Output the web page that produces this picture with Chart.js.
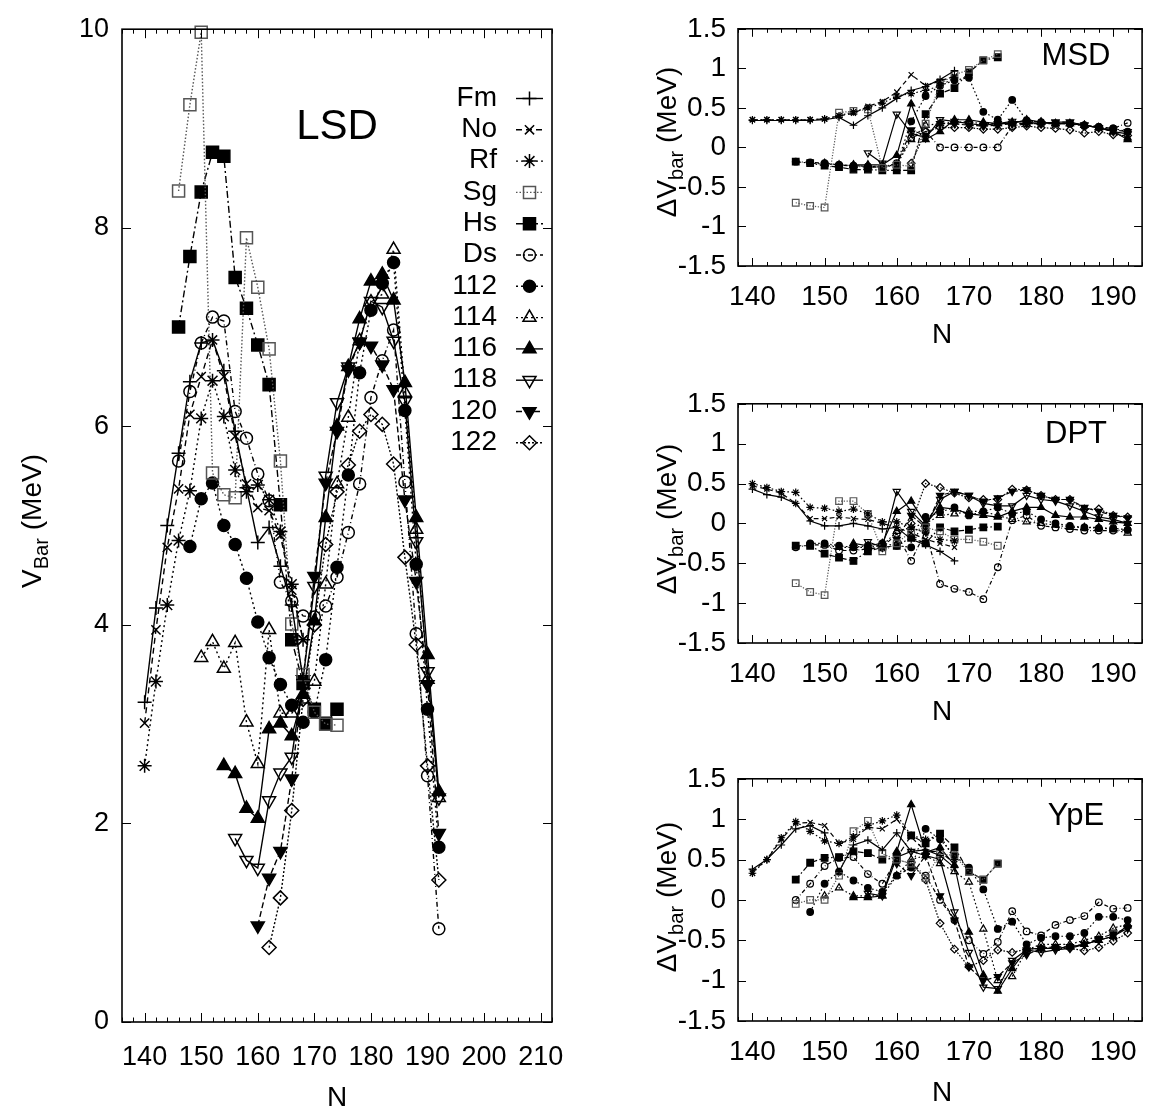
<!DOCTYPE html>
<html><head><meta charset="utf-8">
<script src="https://cdn.jsdelivr.net/npm/chart.js@4/dist/chart.umd.min.js"></script>
<style>
html,body{margin:0;padding:0;background:#fff;overflow:hidden;width:1151px;height:1114px;}
canvas{position:absolute;}
</style></head><body>
<canvas id="lsd" width="600" height="1114" style="left:0;top:0"></canvas>
<canvas id="msd" width="551" height="375" style="left:600px;top:0"></canvas>
<canvas id="dpt" width="551" height="375" style="left:600px;top:375px"></canvas>
<canvas id="ype" width="551" height="364" style="left:600px;top:750px"></canvas>
<script>
// ---------------- DATA ----------------
const N_VALUES = [140,142,144,146,148,150,152,154,156,158,160,162,164,166,168,170,172,174,176,178,180,182,184,186,188,190,192];
const ELEMENTS = ['Fm','No','Rf','Sg','Hs','Ds','112','114','116','118','120','122'];
const FIRST_N  = [140,140,140,146,146,146,148,150,154,156,160,162];

// LSD barrier heights V_Bar (MeV)
const LSD_Fm  = [3.22,4.17,5.0,5.73,6.45,6.84,6.87,6.56,5.95,5.38,4.83,4.98,4.59,4.2,3.45];
const LSD_No  = [3.01,3.95,4.78,5.37,6.12,6.5,6.87,6.5,5.9,5.42,5.18,5.15,4.9,4.35,3.85];
const LSD_Rf  = [2.58,3.43,4.2,4.85,5.35,6.08,6.46,6.1,5.56,5.34,5.41,5.26,4.94,4.41,3.85];
const LSD_Sg  = [8.37,9.24,9.97,5.53,5.31,5.28,7.9,7.4,6.78,5.65,4.01,3.5,3.12,3.0,2.99];
const LSD_Hs  = [7.0,7.71,8.36,8.76,8.72,7.5,7.19,6.82,6.42,5.21,3.85,3.41,3.15,3.01,3.15];
const LSD_Ds  = [5.65,6.35,6.84,7.1,7.06,6.15,5.88,5.52,5.25,4.43,4.24,4.09,4.08,4.19,4.48,4.93,5.42,6.29,6.66,6.97,5.44,3.91,2.48,0.94];
const LSD_112 = [4.79,5.27,5.43,5.0,4.81,4.47,4.03,3.67,3.4,3.19,3.02,3.12,3.65,4.58,5.51,6.54,7.17,7.44,7.65,6.16,4.61,3.15,1.76];
const LSD_114 = [3.67,3.83,3.56,3.82,3.02,2.6,3.95,3.11,3.11,3.25,3.43,4.41,5.42,6.09,6.86,7.25,7.33,7.78,6.34,4.96,3.45,2.26];
const LSD_116 = [2.58,2.5,2.15,2.05,2.95,3.01,2.88,3.3,4.04,5.08,6.0,6.6,7.08,7.46,7.53,7.27,6.44,5.08,3.7,2.32];
const LSD_118 = [1.85,1.63,1.55,2.23,2.51,2.67,3.45,4.39,5.5,6.24,6.6,6.85,7.26,7.2,6.86,6.25,4.84,3.53,2.26];
const LSD_120 = [0.97,1.45,1.72,2.45,3.45,4.49,5.43,5.95,6.57,6.85,6.81,6.62,6.37,5.26,4.44,3.4,1.9];
const LSD_122 = [0.75,1.25,2.13,3.25,4.0,4.81,5.34,5.61,5.95,6.12,6.02,5.62,4.68,3.8,2.58,1.43];

// MSD differences (MeV)
const MSD_Fm  = [0.34,0.34,0.34,0.34,0.34,0.35,0.38,0.28,0.4,0.5,0.62,0.72,0.77,0.86,0.97];
const MSD_No  = [0.35,0.35,0.35,0.35,0.35,0.36,0.4,0.43,0.52,0.58,0.7,0.92,0.78,0.84,0.9];
const MSD_Rf  = [0.35,0.35,0.35,0.35,0.35,0.36,0.4,0.45,0.5,0.56,0.65,0.68,0.72,0.78,0.88];
const MSD_Sg  = [-0.7,-0.74,-0.76,0.44,0.46,0.48,-0.26,-0.22,-0.24,0.3,0.8,0.92,0.98,1.1,1.18];
const MSD_Hs  = [-0.18,-0.2,-0.23,-0.25,-0.28,-0.28,-0.29,-0.29,-0.29,0.42,0.68,0.75,0.95,1.1,1.14];
const MSD_Ds  = [-0.18,-0.19,-0.2,-0.22,-0.24,-0.25,-0.25,-0.2,0.12,0.2,0.0,0.0,0.0,0.0,0.0,0.27,0.3,0.3,0.3,0.3,0.28,0.26,0.24,0.31];
const MSD_112 = [-0.2,-0.21,-0.22,-0.23,-0.24,-0.24,-0.22,0.33,0.65,0.78,0.85,0.88,0.45,0.35,0.6,0.34,0.32,0.3,0.3,0.27,0.26,0.24,0.2];
const MSD_114 = [-0.2,-0.22,-0.23,-0.24,-0.25,-0.22,0.1,0.28,0.3,0.32,0.32,0.3,0.3,0.32,0.33,0.32,0.3,0.3,0.28,0.25,0.2,0.12];
const MSD_116 = [-0.22,-0.22,-0.22,-0.1,0.55,0.1,0.2,0.35,0.35,0.32,0.3,0.3,0.35,0.32,0.3,0.3,0.28,0.25,0.2,0.1];
const MSD_118 = [-0.07,-0.2,0.42,0.18,0.12,0.35,0.33,0.3,0.28,0.3,0.33,0.32,0.3,0.32,0.32,0.28,0.25,0.2,0.17];
const MSD_120 = [-0.22,0.22,0.15,0.3,0.3,0.28,0.27,0.28,0.3,0.3,0.3,0.32,0.32,0.28,0.25,0.22,0.2];
const MSD_122 = [-0.2,0.2,0.25,0.25,0.25,0.23,0.23,0.25,0.27,0.25,0.24,0.22,0.18,0.2,0.16,0.15];

// DPT differences (MeV)
const DPT_Fm  = [0.43,0.36,0.33,0.25,0.03,-0.03,-0.03,0.0,-0.03,-0.07,-0.05,-0.2,-0.27,-0.35,-0.47];
const DPT_No  = [0.47,0.43,0.38,0.25,0.06,0.06,0.08,0.06,0.05,0.0,-0.05,-0.12,-0.2,-0.25,-0.3];
const DPT_Rf  = [0.5,0.45,0.4,0.39,0.2,0.19,0.15,0.18,0.12,0.02,0.02,-0.05,-0.12,-0.2,-0.22];
const DPT_Sg  = [-0.75,-0.86,-0.9,0.28,0.28,0.12,-0.35,-0.25,-0.1,-0.05,-0.1,-0.2,-0.2,-0.23,-0.28];
const DPT_Hs  = [-0.28,-0.28,-0.38,-0.43,-0.47,-0.35,-0.3,-0.28,-0.18,-0.25,-0.05,-0.1,-0.08,-0.05,-0.04];
const DPT_Ds  = [-0.3,-0.27,-0.27,-0.34,-0.34,-0.32,-0.3,-0.13,-0.47,-0.1,-0.76,-0.82,-0.86,-0.95,-0.55,0.04,0.1,-0.03,-0.05,-0.07,-0.09,-0.09,-0.09,-0.08];
const DPT_112 = [-0.25,-0.25,-0.28,-0.3,-0.28,-0.25,-0.28,-0.3,0.08,0.14,0.2,0.1,0.15,0.2,0.12,0.15,0.05,0.0,-0.03,-0.05,-0.06,-0.06,-0.08];
const DPT_114 = [-0.27,-0.3,-0.3,-0.3,-0.28,-0.1,-0.05,0.0,0.1,0.12,0.15,0.15,0.1,0.05,0.02,0.0,-0.02,-0.05,-0.05,-0.05,-0.08,-0.12];
const DPT_116 = [-0.25,-0.28,-0.25,0.15,0.28,0.0,0.2,0.18,0.12,0.1,0.08,0.15,0.2,0.2,0.1,0.08,0.08,0.05,0.02,0.0];
const DPT_118 = [-0.23,-0.3,0.4,0.15,-0.03,0.3,0.4,0.35,0.25,0.22,0.22,0.35,0.3,0.28,0.22,0.15,0.08,0.05,0.0];
const DPT_120 = [-0.2,0.1,-0.05,0.35,0.4,0.35,0.28,0.32,0.4,0.42,0.35,0.3,0.3,0.2,0.15,0.1,0.07];
const DPT_122 = [0.0,0.5,0.45,0.38,0.32,0.3,0.3,0.43,0.42,0.35,0.3,0.3,0.18,0.18,0.1,0.08];

// YpE differences (MeV)
const YPE_Fm  = [0.38,0.5,0.68,0.88,0.92,0.83,0.35,0.68,0.74,0.62,0.83,0.6,0.62,0.55,0.4];
const YPE_No  = [0.35,0.5,0.75,0.95,0.96,0.92,0.7,0.75,0.9,0.88,1.0,0.78,0.6,0.6,0.45];
const YPE_Rf  = [0.33,0.5,0.77,0.97,0.85,0.73,0.7,0.78,0.92,0.98,1.05,0.8,0.75,0.8,0.5];
const YPE_Sg  = [-0.05,0.0,0.0,0.3,0.85,0.98,0.57,0.5,0.45,0.27,0.57,0.55,0.35,0.25,0.45];
const YPE_Hs  = [0.25,0.46,0.52,0.53,0.6,0.58,0.5,0.52,0.8,0.7,0.82,0.65,0.35,0.25,0.45];
const YPE_Ds  = [0.0,0.2,0.42,0.52,0.53,0.32,0.2,0.5,0.45,0.3,0.0,-0.25,-0.5,-0.67,-0.52,-0.14,-0.39,-0.44,-0.31,-0.25,-0.2,-0.03,-0.11,-0.1];
const YPE_112 = [-0.15,0.2,0.35,0.24,0.15,0.1,0.3,0.4,0.88,0.75,0.55,0.4,0.13,-0.36,-0.27,-0.55,-0.47,-0.45,-0.45,-0.41,-0.21,-0.21,-0.25];
const YPE_114 = [0.05,0.15,0.05,0.05,0.05,0.3,0.5,0.55,0.45,0.35,0.22,-0.36,-1.0,-0.95,-0.62,-0.55,-0.55,-0.55,-0.5,-0.45,-0.35,-0.3];
const YPE_116 = [0.03,0.03,0.05,0.6,1.18,0.59,0.65,0.43,-0.4,-0.93,-1.13,-0.85,-0.61,-0.6,-0.6,-0.58,-0.55,-0.5,-0.45,-0.32];
const YPE_118 = [0.08,0.05,0.53,0.6,0.55,0.5,-0.15,-0.65,-1.08,-1.1,-0.75,-0.62,-0.65,-0.62,-0.6,-0.55,-0.5,-0.45,-0.35];
const YPE_120 = [0.45,0.3,0.55,0.05,-0.25,-0.83,-1.0,-0.95,-0.78,-0.68,-0.6,-0.58,-0.58,-0.55,-0.48,-0.42,-0.35];
const YPE_122 = [0.46,0.25,-0.29,-0.61,-0.83,-0.75,-0.62,-0.65,-0.61,-0.6,-0.6,-0.6,-0.63,-0.59,-0.51,-0.41];

const LSD_SERIES = [LSD_Fm,LSD_No,LSD_Rf,LSD_Sg,LSD_Hs,LSD_Ds,LSD_112,LSD_114,LSD_116,LSD_118,LSD_120,LSD_122];
const MSD_SERIES = [MSD_Fm,MSD_No,MSD_Rf,MSD_Sg,MSD_Hs,MSD_Ds,MSD_112,MSD_114,MSD_116,MSD_118,MSD_120,MSD_122];
const DPT_SERIES = [DPT_Fm,DPT_No,DPT_Rf,DPT_Sg,DPT_Hs,DPT_Ds,DPT_112,DPT_114,DPT_116,DPT_118,DPT_120,DPT_122];
const YPE_SERIES = [YPE_Fm,YPE_No,YPE_Rf,YPE_Sg,YPE_Hs,YPE_Ds,YPE_112,YPE_114,YPE_116,YPE_118,YPE_120,YPE_122];

const LSD_X_TICKS = [140,150,160,170,180,190,200,210];
const LSD_Y_TICKS = [0,2,4,6,8,10];
const D_X_TICKS = [140,150,160,170,180,190];
const D_Y_TICKS = [-1.5,-1,-0.5,0,0.5,1,1.5];

// ---------------- STYLE ----------------
const FONT = "'Liberation Sans', Arial, Helvetica, sans-serif";
const STYLES = [
  {ps:'cross',    fill:false, dash:[],        color:'#000', r:7},
  {ps:'crossRot', fill:false, dash:[6,4],     color:'#000', r:6.5},
  {ps:'star',     fill:false, dash:[2,3],     color:'#000', r:7},
  {ps:'rect',     fill:false, dash:[1.5,2],   color:'#555', r:8.5},
  {ps:'rect',     fill:true,  dash:[7,3,2,3], color:'#000', r:8.5},
  {ps:'circle',   fill:false, dash:[5,3,1,3], color:'#000', r:6},
  {ps:'circle',   fill:true,  dash:[2,3],     color:'#000', r:6},
  {ps:'triangle', fill:false, dash:[2,3],     color:'#000', r:7.5},
  {ps:'triangle', fill:true,  dash:[],        color:'#000', r:7.5},
  {ps:'triangle', fill:false, dash:[],        color:'#000', r:7.5, rot:180},
  {ps:'triangle', fill:true,  dash:[6,3],     color:'#000', r:7.5, rot:180},
  {ps:'rectRot',  fill:false, dash:[2,2],     color:'#000', r:7}
];

function drawRich(ctx, parts, size, cx, cy, rot) {
  ctx.save();
  ctx.translate(cx, cy);
  if (rot) ctx.rotate(rot);
  ctx.fillStyle = '#000';
  ctx.textBaseline = 'middle';
  ctx.textAlign = 'left';
  let total = 0;
  const w = parts.map(p => { ctx.font = (p.sub ? size*0.72 : size) + 'px ' + FONT; const m = ctx.measureText(p.t).width; total += m; return m; });
  let x = -total/2;
  parts.forEach((p, i) => {
    ctx.font = (p.sub ? size*0.72 : size) + 'px ' + FONT;
    ctx.fillText(p.t, x, p.sub ? size*0.32 : 0);
    x += w[i];
  });
  ctx.restore();
}

const framePlugin = {
  id: 'frame',
  afterDraw(chart, args, o) {
    const {ctx, chartArea: a} = chart;
    const xs = chart.scales.x, ys = chart.scales.y;
    ctx.save();
    ctx.setLineDash([]);
    ctx.strokeStyle = '#000';
    ctx.lineWidth = 1;
    const L = o.tickLen, l = o.tickLen/2;
    ctx.beginPath();
    for (let v = o.xMinorStart; v <= o.xMax + 1e-9; v += o.xMinorStep) {
      const px = Math.round(xs.getPixelForValue(v)) + 0.5;
      const isMajor = o.xMajor.includes(v);
      const len = isMajor ? L : l;
      ctx.moveTo(px, a.bottom); ctx.lineTo(px, a.bottom - len);
      ctx.moveTo(px, a.top); ctx.lineTo(px, a.top + len);
    }
    o.yMajor.forEach(v => {
      const py = Math.round(ys.getPixelForValue(v)) + 0.5;
      ctx.moveTo(a.left, py); ctx.lineTo(a.left + L, py);
      ctx.moveTo(a.right, py); ctx.lineTo(a.right - L, py);
    });
    ctx.stroke();
    ctx.lineWidth = 1.6;
    ctx.strokeRect(a.left, a.top, a.right - a.left, a.bottom - a.top);
    // titles
    drawRich(ctx, o.yTitle, o.titleSize, o.yTitlePos[0], o.yTitlePos[1], -Math.PI/2);
    drawRich(ctx, [{t:'N'}], o.titleSize, o.xTitlePos[0], o.xTitlePos[1], 0);
    drawRich(ctx, [{t:o.panel}], o.panelSize, o.panelPos[0], o.panelPos[1], 0);
    // legend
    if (o.legend) {
      const lg = o.legend;
      chart.data.datasets.forEach((ds, i) => {
        const y = lg.y0 + i*lg.dy;
        ctx.font = lg.size + 'px ' + FONT;
        ctx.fillStyle = '#000';
        ctx.textAlign = 'right';
        ctx.textBaseline = 'middle';
        ctx.fillText(ds.label, lg.textRight, y);
        ctx.strokeStyle = ds.borderColor;
        ctx.lineWidth = ds.borderWidth;
        ctx.setLineDash(ds.borderDash);
        ctx.beginPath(); ctx.moveTo(lg.lineL, y + 0.5); ctx.lineTo(lg.lineR, y + 0.5); ctx.stroke();
        ctx.setLineDash([]);
        ctx.lineWidth = ds.pointBorderWidth;
        ctx.strokeStyle = ds.pointBorderColor;
        ctx.fillStyle = ds.pointBackgroundColor;
        Chart.helpers.drawPoint(ctx, {pointStyle: ds.pointStyle, rotation: ds.pointRotation, radius: ds.pointRadius, borderWidth: ds.pointBorderWidth}, (lg.lineL + lg.lineR)/2, y + 0.5);
      });
    }
    ctx.restore();
  }
};

function build(id, spec) {
  const datasets = ELEMENTS.map((el, i) => {
    const st = STYLES[i];
    const i0 = N_VALUES.indexOf(FIRST_N[i]);
    const data = spec.series[i].map((v, k) => ({x: N_VALUES[i0 + k], y: v}));
    const fillC = st.fill ? st.color : 'rgba(0,0,0,0)';
    return {
      label: el, data,
      borderColor: st.color, backgroundColor: fillC,
      borderWidth: spec.lw, borderDash: st.dash.map(d => d*spec.dashScale),
      pointStyle: st.ps, pointRotation: st.rot || 0, pointRadius: st.r*spec.ms,
      pointBorderColor: st.color, pointBackgroundColor: fillC, pointBorderWidth: spec.pbw,
      pointHoverRadius: st.r*spec.ms,
      tension: 0, fill: false, clip: 12
    };
  });
  const tickFont = {family: FONT, size: spec.tickSize};
  return new Chart(document.getElementById(id), {
    type: 'line',
    data: {datasets},
    options: {
      responsive: false, animation: false, devicePixelRatio: 1,
      events: [],
      layout: {padding: {left: 0, right: spec.padR, top: spec.padT, bottom: 0}},
      plugins: {legend: {display: false}, tooltip: {enabled: false}, frame: spec.frame},
      scales: {
        x: {
          type: 'linear', min: spec.xMin, max: spec.xMax,
          afterBuildTicks: s => { s.ticks = spec.xTicks.map(v => ({value: v})); },
          afterFit: s => { s.height = spec.xAxisH; },
          grid: {display: false, drawTicks: false}, border: {display: false},
          ticks: {font: tickFont, color: '#000', padding: spec.xPad, maxRotation: 0, autoSkip: false, callback: v => String(v)}
        },
        y: {
          type: 'linear', min: spec.yMin, max: spec.yMax,
          afterBuildTicks: s => { s.ticks = spec.yTicks.map(v => ({value: v})); },
          afterFit: s => { s.width = spec.yAxisW; },
          grid: {display: false, drawTicks: false}, border: {display: false},
          ticks: {font: tickFont, color: '#000', padding: spec.yPad, autoSkip: false, callback: v => String(v)}
        }
      }
    },
    plugins: [framePlugin]
  });
}

// Left panel (LSD)
build('lsd', {
  series: LSD_SERIES, xMin: 136, xMax: 212, yMin: 0, yMax: 10,
  xTicks: LSD_X_TICKS, yTicks: LSD_Y_TICKS,
  padR: 48, padT: 20, xAxisH: 92, yAxisW: 122, xPad: 19, yPad: 13,
  tickSize: 27, lw: 1.4, pbw: 1.5, ms: 1, dashScale: 1,
  frame: {
    tickLen: 9, xMinorStart: 136, xMinorStep: 2, xMax: 212, xMajor: LSD_X_TICKS, yMajor: LSD_Y_TICKS,
    yTitle: [{t:'V'},{t:'Bar',sub:true},{t:' (MeV)'}], titleSize: 28, yTitlePos: [33, 521], xTitlePos: [337, 1098],
    panel: 'LSD', panelSize: 42, panelPos: [337, 127],
    legend: {y0: 98, dy: 31.3, size: 28, textRight: 497, lineL: 516, lineR: 543}
  }
});

function rightSpec(series, padT, xAxisH, panel, panelY, yTitleY, nY) {
  return {
    series, xMin: 138, xMax: 194, yMin: -1.5, yMax: 1.5,
    xTicks: D_X_TICKS, yTicks: D_Y_TICKS,
    padR: 5, padT, xAxisH, yAxisW: 138, xPad: 14, yPad: 12,
    tickSize: 28, lw: 1.2, pbw: 1.2, ms: 0.55, dashScale: 0.8,
    frame: {
      tickLen: 8, xMinorStart: 138, xMinorStep: 2, xMax: 194, xMajor: D_X_TICKS, yMajor: D_Y_TICKS,
      yTitle: [{t:'\u0394V'},{t:'bar',sub:true},{t:' (MeV)'}], titleSize: 28, yTitlePos: [68, yTitleY], xTitlePos: [342, nY],
      panel, panelSize: 31, panelPos: [476, panelY]
    }
  };
}
build('msd', rightSpec(MSD_SERIES, 18, 109, 'MSD', 56, 142, 335));
build('dpt', rightSpec(DPT_SERIES, 20, 107, 'DPT', 59, 144, 337));
build('ype', rightSpec(YPE_SERIES, 23, 93, 'YpE', 66, 147, 343));
</script>
</body></html>
